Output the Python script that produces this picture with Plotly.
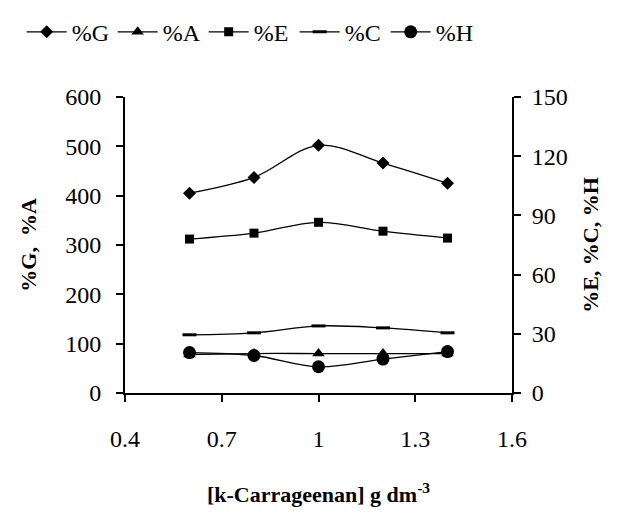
import plotly.graph_objects as go

x_conc = [0.6, 0.8, 1.0, 1.2, 1.4]
pct_G = [405, 437, 502, 466, 425]
pct_A = [78, 80, 80, 80, 80]
pct_E = [78, 81, 86.5, 82, 78.5]
pct_C = [29.5, 30.5, 34, 33, 30.5]
pct_H = [20.5, 19, 13.3, 17.2, 21]

font_family = "Liberation Serif"
fig = go.Figure()

def add(name, y, symbol, size, axis, mline=0):
    fig.add_trace(go.Scatter(
        x=x_conc, y=y, name=name, mode="lines+markers", yaxis=axis,
        line=dict(color="black", width=1.3, shape="spline", smoothing=1),
        marker=dict(symbol=symbol, size=size, color="black",
                    line=dict(color="black", width=mline)),
    ))

add("%G", pct_G, "diamond", 10, "y")
add("%A", pct_A, "triangle-up", 11, "y")
add("%E", pct_E, "square", 9, "y2")
add("%C", pct_C, "line-ew", 10, "y2", mline=3)
add("%H", pct_H, "circle", 13, "y2")

axis_common = dict(showline=True, linecolor="black", linewidth=2, ticks="outside",
                   tickcolor="black", tickwidth=2, ticklen=7, showgrid=False, zeroline=False,
                   automargin=False,
                   tickfont=dict(family=font_family, size=24, color="black"))

fig.update_layout(
    width=638, height=517,
    paper_bgcolor="white", plot_bgcolor="white",
    margin=dict(l=117, r=134, t=89, b=132, autoexpand=False),
    font=dict(family=font_family, color="black"),
    showlegend=True,
    legend=dict(orientation="h", x=-0.267, xanchor="left", xref="paper",
                y=1.295, yref="paper", yanchor="top",
                font=dict(family=font_family, size=24, color="black"),
                itemwidth=40, entrywidth=36, entrywidthmode="pixels",
                traceorder="normal", tracegroupgap=0),
    xaxis=dict(range=[0.4, 1.6], tickvals=[0.4, 0.7, 1.0, 1.3, 1.6], ticktext=["0.4", "0.7", "1", "1.3", "1.6"],
               ticklabelstandoff=16,
               title=dict(text="<b>[k-Carrageenan] g dm<sup>-3</sup></b>", font=dict(family=font_family, size=22), standoff=36),
               **axis_common),
    yaxis=dict(range=[0, 600], tickvals=[0, 100, 200, 300, 400, 500, 600],
               ticklabelstandoff=10,
               title=dict(text="<b>%G,  %A</b>", font=dict(family=font_family, size=22), standoff=23),
               **axis_common),
    yaxis2=dict(range=[0, 150], tickvals=[0, 30, 60, 90, 120, 150], overlaying="y", side="right",
                ticklabelstandoff=6,
                title=dict(text="<b>%E, %C, %H</b>", font=dict(family=font_family, size=22), standoff=16),
                **axis_common),
)

fig.write_html("out.html")
